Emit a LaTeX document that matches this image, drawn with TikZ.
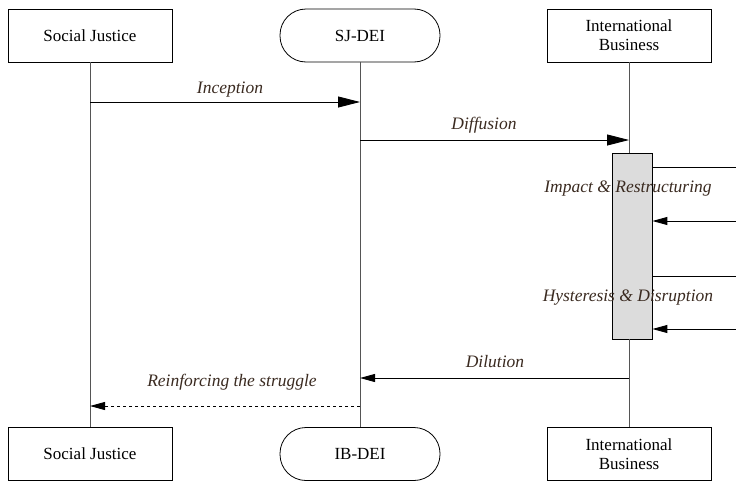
\documentclass[tikz,border=0pt]{standalone}
\usepackage{fontspec}
\setmainfont{Liberation Serif}
\usetikzlibrary{arrows.meta}
\definecolor{lblc}{HTML}{3A2A20}
\definecolor{actfill}{HTML}{DCDCDC}
\definecolor{lifec}{HTML}{555555}
\begin{document}
\begin{tikzpicture}[x=1pt,y=-1pt,
  actor/.style={draw,line width=0.8pt,minimum width=164pt,minimum height=53pt,inner sep=2pt,align=center,font=\fontsize{17}{19}\selectfont},
  roundactor/.style={actor,rounded corners=26pt,minimum width=160pt},
  life/.style={line width=0.8pt,draw=lifec},
  msg/.style={line width=0.9pt,-{Triangle[length=15pt,width=8pt]}},
  bigmsg/.style={line width=0.9pt,-{Triangle[length=22pt,width=11pt]}},
  lbl/.style={font=\fontsize{17.5}{19}\selectfont\itshape,text=lblc,inner sep=1pt}]
\useasboundingbox (0,0) rectangle (736,482);
% top actors
\node[actor] (sjT) at (90,35.5) {Social Justice};
\node[roundactor] (sdT) at (360,35.5) {SJ-DEI};
\node[actor] (ibT) at (629,35.5) {International\\Business};
% bottom actors
\node[actor] (sjB) at (90,454) {Social Justice};
\node[roundactor] (sdB) at (360,454) {IB-DEI};
\node[actor] (ibB) at (629,454) {International\\Business};
% activation box
\node[draw,fill=actfill,line width=0.8pt,minimum width=40pt,minimum height=186pt,inner sep=0pt] (act) at (632,246) {};
% lifelines
\draw[life] (sjT.south) -- (sjB.north);
\draw[life] (sdT.south) -- (sdB.north);
\draw[life] (ibT.south) -- (ibT.south |- act.north);
\draw[life] (ibB.north |- act.south) -- (ibB.north);
% edge coordinates
\coordinate (e1) at (736,167);
\coordinate (e2) at (736,221);
\coordinate (e3) at (736,276);
\coordinate (e4) at (736,329);
% messages
\draw[bigmsg] (sjT.south |- 0,102) -- (sdT.south |- 0,102);
\node[lbl] (linc) at (230,90) {Inception};
\draw[bigmsg] (sdT.south |- 0,140) -- (ibT.south |- 0,140);
\node[lbl] (ldif) at (484,125) {Diffusion};
\draw[line width=0.9pt] (act.east |- e1) -- (e1);
\draw[msg] (e2) -- (act.east |- e2);
\node[lbl] (limp) at (628,189) {Impact \& Restructuring};
\draw[line width=0.9pt] (act.east |- e3) -- (e3);
\draw[msg] (e4) -- (act.east |- e4);
\node[lbl] (lhys) at (628,298) {Hysteresis \& Disruption};
\draw[msg] (ibT.south |- 0,378) -- (sdT.south |- 0,378);
\node[lbl] (ldil) at (495,362) {Dilution};
\draw[msg,dashed,dash pattern=on 3pt off 3pt] (sdT.south |- 0,406) -- (sjT.south |- 0,406);
\node[lbl] (lrei) at (232,382) {Reinforcing the struggle};
\end{tikzpicture}
\end{document}
